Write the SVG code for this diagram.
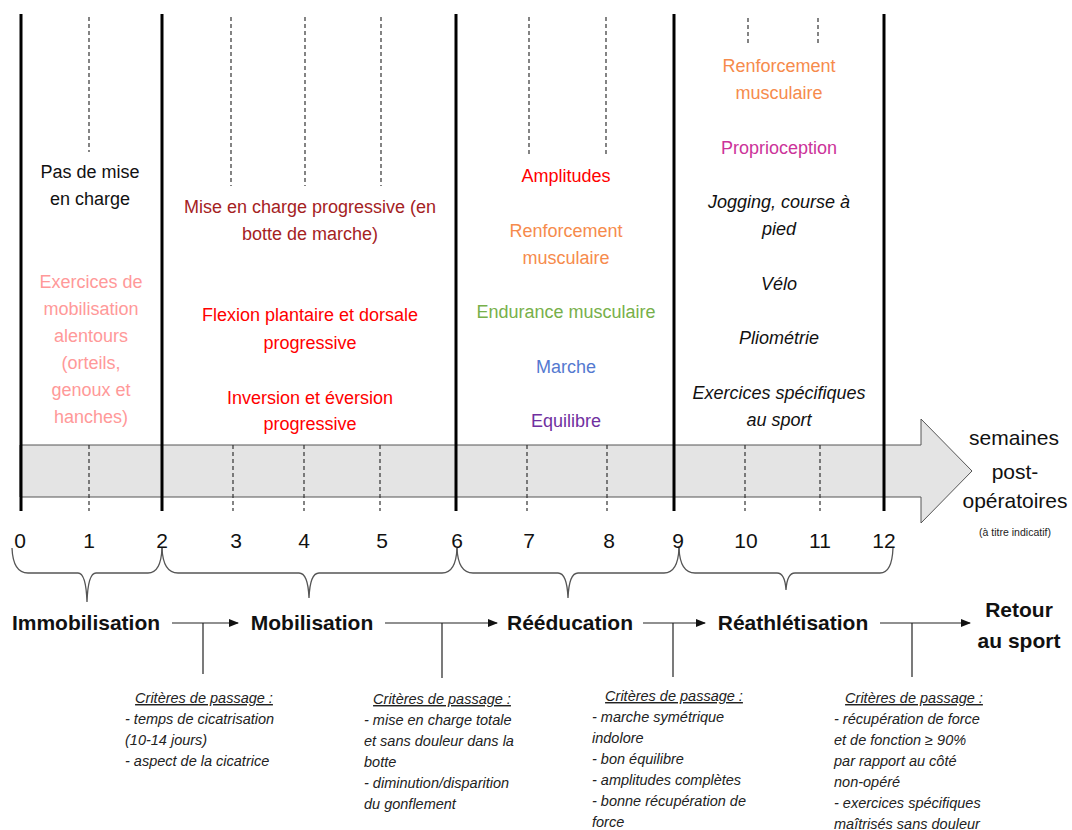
<svg xmlns="http://www.w3.org/2000/svg" width="1072" height="830" viewBox="0 0 1072 830">
<defs>
<style>
text{font-family:"Liberation Sans",Arial,sans-serif;}
.col{font-size:18px;text-anchor:middle;}
.it{font-style:italic;fill:#111;}
.num{font-size:21px;text-anchor:middle;fill:#111;}
.head{font-size:21px;font-weight:bold;text-anchor:middle;fill:#111;}
.crit{font-size:14.5px;font-style:italic;fill:#222;}
.crith{font-size:14.5px;font-style:italic;fill:#222;text-anchor:middle;text-decoration:underline;}
.heavy{stroke:#000;stroke-width:3;}
.dash{stroke:#333;stroke-width:1.2;stroke-dasharray:4 3;}
.brace{fill:none;stroke:#555;stroke-width:1.3;}
.flow{stroke:#222;stroke-width:1.2;fill:none;}
.pink{fill:#FF9999;}
.dred{fill:#A5221F;}
.red{fill:#FF0000;}
.orange{fill:#F68B4C;}
.green{fill:#77B04A;}
.blue{fill:#5479D0;}
.purple{fill:#7030A0;}
.magenta{fill:#CC3399;}
</style>
<marker id="ah" markerWidth="10" markerHeight="8" refX="9" refY="4" orient="auto" markerUnits="userSpaceOnUse">
<path d="M0,0 L10,4 L0,8 Z" fill="#111"/>
</marker>
</defs>
<rect width="1072" height="830" fill="#fff"/>

<g id="timeline">
<path d="M20,445 H921 V419 L972,471 L921,523 V497 H20 Z" fill="#E4E4E4" stroke="#555" stroke-width="1"/>
<g id="dashes">
<line class="dash" x1="89" y1="17" x2="89" y2="152"/>
<line class="dash" x1="231" y1="17" x2="231" y2="186"/>
<line class="dash" x1="305" y1="17" x2="305" y2="186"/>
<line class="dash" x1="381" y1="17" x2="381" y2="186"/>
<line class="dash" x1="529" y1="17" x2="529" y2="156"/>
<line class="dash" x1="606" y1="17" x2="606" y2="156"/>
<line class="dash" x1="748" y1="18" x2="748" y2="45"/>
<line class="dash" x1="818" y1="18" x2="818" y2="43"/>
<line class="dash" x1="89" y1="445" x2="89" y2="511"/>
<line class="dash" x1="233" y1="445" x2="233" y2="511"/>
<line class="dash" x1="304" y1="445" x2="304" y2="511"/>
<line class="dash" x1="380" y1="445" x2="380" y2="511"/>
<line class="dash" x1="527" y1="445" x2="527" y2="511"/>
<line class="dash" x1="607" y1="445" x2="607" y2="511"/>
<line class="dash" x1="745" y1="445" x2="745" y2="511"/>
<line class="dash" x1="820" y1="445" x2="820" y2="511"/>
</g>
<g id="phase-lines">
<line class="heavy" x1="21" y1="14" x2="21" y2="511"/>
<line class="heavy" x1="162" y1="14" x2="162" y2="511"/>
<line class="heavy" x1="456" y1="14" x2="456" y2="511"/>
<line class="heavy" x1="674" y1="14" x2="674" y2="511"/>
<line class="heavy" x1="884" y1="14" x2="884" y2="511" stroke-width="2.5"/>
</g>
<g id="week-numbers">
<text class="num" x="20" y="548">0</text>
<text class="num" x="89" y="548">1</text>
<text class="num" x="162" y="548">2</text>
<text class="num" x="236" y="548">3</text>
<text class="num" x="304" y="548">4</text>
<text class="num" x="382" y="548">5</text>
<text class="num" x="457" y="548">6</text>
<text class="num" x="529" y="548">7</text>
<text class="num" x="609" y="548">8</text>
<text class="num" x="678" y="548">9</text>
<text class="num" x="746" y="548">10</text>
<text class="num" x="820" y="548">11</text>
<text class="num" x="884" y="548">12</text>
</g>
<g id="axis-label">
<text class="num" x="1014" y="445">semaines</text>
<text class="num" x="1015" y="479">post-</text>
<text class="num" x="1015" y="508">opératoires</text>
<text x="1015" y="536" font-size="10.5" text-anchor="middle" fill="#222">(à titre indicatif)</text>
</g>
</g>

<g id="col-immobilisation">
<text class="col" x="90" y="178" fill="#111">Pas de mise</text>
<text class="col" x="90" y="205" fill="#111">en charge</text>
<text class="col pink" x="91" y="288">Exercices de</text>
<text class="col pink" x="91" y="315">mobilisation</text>
<text class="col pink" x="91" y="342">alentours</text>
<text class="col pink" x="91" y="369">(orteils,</text>
<text class="col pink" x="91" y="396">genoux et</text>
<text class="col pink" x="91" y="423">hanches)</text>
</g>

<g id="col-mobilisation">
<text class="col dred" x="310" y="213">Mise en charge progressive (en</text>
<text class="col dred" x="310" y="240">botte de marche)</text>
<text class="col red" x="310" y="321">Flexion plantaire et dorsale</text>
<text class="col red" x="310" y="349">progressive</text>
<text class="col red" x="310" y="404">Inversion et éversion</text>
<text class="col red" x="310" y="430">progressive</text>
</g>

<g id="col-reeducation">
<text class="col red" x="566" y="182">Amplitudes</text>
<text class="col orange" x="566" y="237">Renforcement</text>
<text class="col orange" x="566" y="264">musculaire</text>
<text class="col green" x="566" y="318">Endurance musculaire</text>
<text class="col blue" x="566" y="373">Marche</text>
<text class="col purple" x="566" y="427">Equilibre</text>
</g>

<g id="col-reathletisation">
<text class="col orange" x="779" y="72">Renforcement</text>
<text class="col orange" x="779" y="99">musculaire</text>
<text class="col magenta" x="779" y="154">Proprioception</text>
<text class="col it" x="779" y="208">Jogging, course à</text>
<text class="col it" x="779" y="235">pied</text>
<text class="col it" x="779" y="290">Vélo</text>
<text class="col it" x="779" y="344">Pliométrie</text>
<text class="col it" x="779" y="399">Exercices spécifiques</text>
<text class="col it" x="779" y="426">au sport</text>
</g>

<g id="braces">
<path class="brace" d="M12,548 Q13,573 28,573 H78 Q86,573 87,602 Q88,573 96,573 H148 Q161,573 162,548"/>
<path class="brace" d="M162,548 Q163,573 178,573 H299 Q308,573 309,598 Q310,573 319,573 H442 Q456,573 457,548"/>
<path class="brace" d="M457,548 Q458,573 473,573 H558 Q567,573 568,598 Q569,573 578,573 H664 Q678,573 679,548"/>
<path class="brace" d="M679,548 Q680,573 695,573 H777 Q785,573 786,590 Q787,573 795,573 H880 Q892,573 893,548"/>
</g>

<g id="phase-immobilisation"><text class="head" x="86" y="630">Immobilisation</text></g>
<g id="phase-mobilisation"><text class="head" x="312" y="630">Mobilisation</text></g>
<g id="phase-reeducation"><text class="head" x="570" y="630">Rééducation</text></g>
<g id="phase-reathletisation"><text class="head" x="793" y="630">Réathlétisation</text></g>
<g id="phase-retour">
<text class="head" x="1019" y="617">Retour</text>
<text class="head" x="1019" y="648">au sport</text>
</g>

<g id="connectors">
<line class="flow" x1="172" y1="623" x2="238" y2="623" marker-end="url(#ah)"/>
<line class="flow" x1="203" y1="623" x2="203" y2="674"/>
<line class="flow" x1="385" y1="623" x2="497" y2="623" marker-end="url(#ah)"/>
<line class="flow" x1="442" y1="623" x2="442" y2="678"/>
<line class="flow" x1="643" y1="623" x2="705" y2="623" marker-end="url(#ah)"/>
<line class="flow" x1="673" y1="623" x2="673" y2="677"/>
<line class="flow" x1="880" y1="623" x2="970" y2="623" marker-end="url(#ah)"/>
<line class="flow" x1="912" y1="623" x2="912" y2="677"/>
</g>

<g id="criteria-1">
<text class="crith" x="204" y="703">Critères de passage :</text>
<text class="crit" x="125" y="724">- temps de cicatrisation</text>
<text class="crit" x="125" y="745">(10-14 jours)</text>
<text class="crit" x="125" y="766">- aspect de la cicatrice</text>
</g>
<g id="criteria-2">
<text class="crith" x="442" y="704">Critères de passage :</text>
<text class="crit" x="364" y="725">- mise en charge totale</text>
<text class="crit" x="364" y="746">et sans douleur dans la</text>
<text class="crit" x="364" y="767">botte</text>
<text class="crit" x="364" y="788">- diminution/disparition</text>
<text class="crit" x="364" y="809">du gonflement</text>
</g>
<g id="criteria-3">
<text class="crith" x="674" y="701">Critères de passage :</text>
<text class="crit" x="592" y="722">- marche symétrique</text>
<text class="crit" x="592" y="743">indolore</text>
<text class="crit" x="592" y="764">- bon équilibre</text>
<text class="crit" x="592" y="785">- amplitudes complètes</text>
<text class="crit" x="592" y="806">- bonne récupération de</text>
<text class="crit" x="592" y="827">force</text>
</g>
<g id="criteria-4">
<text class="crith" x="914" y="703">Critères de passage :</text>
<text class="crit" x="834" y="724">- récupération de force</text>
<text class="crit" x="834" y="745">et de fonction ≥ 90%</text>
<text class="crit" x="834" y="766">par rapport au côté</text>
<text class="crit" x="834" y="787">non-opéré</text>
<text class="crit" x="834" y="808">- exercices spécifiques</text>
<text class="crit" x="834" y="829">maîtrisés sans douleur</text>
</g>
</svg>
